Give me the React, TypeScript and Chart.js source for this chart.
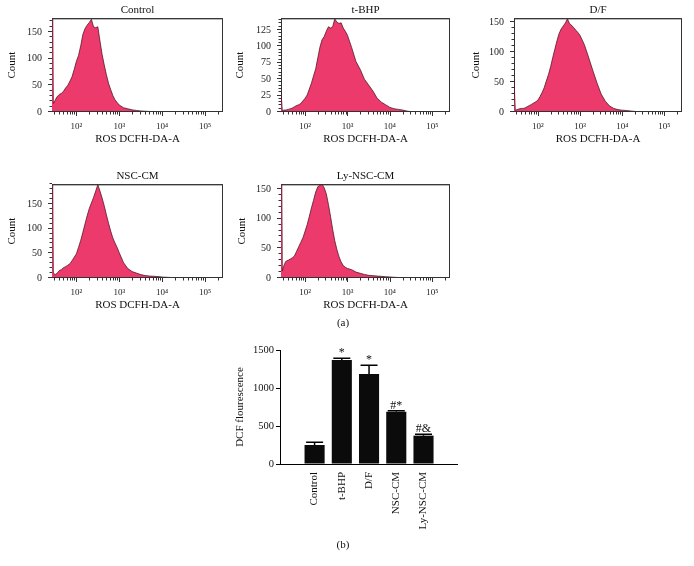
import React, { useEffect, useRef } from 'react';
import { Chart, registerables } from 'chart.js';
Chart.register(...registerables);

const FONT = "'Liberation Serif', 'DejaVu Serif', serif";

// Histogram channels: ROS DCFH-DA-A fluorescence intensity (log scale)
const CHANNELS = [27, 28, 29, 32, 35, 40, 45, 50, 56, 63, 71, 79, 89, 100, 112, 126, 141, 158, 178, 200, 224, 251, 282, 316, 355, 398, 447, 501, 562, 631, 708, 794, 891, 1000, 1259, 1585, 1995, 2512, 3162, 3981, 5012, 6310, 7943, 10000, 12589, 15849, 19953, 25119, 31623, 262144];

// Event counts per channel
const CONTROL_COUNTS = [400, 400, 16, 22, 28, 33, 35, 39, 45, 50, 58, 66, 80, 95, 106, 124, 145, 156, 163, 168, 174, 160, 158, 160, 133, 108, 88, 70, 54, 42, 31, 23, 18, 13, 8, 6, 4, 3, 2, 1.5, 1, 1, 0.7, 0.5, 0.4, 0.3, 0.2, 0.1, 0, 0];
const TBHP_COUNTS = [30, 30, 2, 3, 3, 4, 5, 6, 8, 10, 11, 13, 17, 21, 26, 35, 44, 55, 66, 83, 99, 110, 115, 123, 130, 128, 130, 142, 137, 135, 136, 128, 123, 117, 98, 77, 65, 50, 41, 32, 21, 15, 11, 7, 5, 4, 3, 1.5, 0.5, 0];
const DF_COUNTS = [55, 55, 3, 4, 5, 6, 6, 7, 9, 11, 13, 15, 17, 20, 26, 33, 41, 52, 63, 76, 91, 105, 119, 131, 139, 144, 149, 156, 148, 145, 141, 137, 133, 128, 113, 92, 70, 49, 30, 18, 10, 6, 4, 3, 2.5, 1.7, 1, 0.5, 0, 0];
const NSCCM_COUNTS = [400, 400, 10, 7, 9, 15, 17, 21, 23, 26, 29, 35, 42, 49, 62, 76, 92, 109, 126, 141, 152, 163, 176, 189, 176, 162, 146, 128, 111, 95, 81, 71, 62, 51, 31, 19, 13, 10, 7, 5, 4, 3.5, 3, 2, 1.5, 1, 0.7, 0.3, 0, 0];
const LYNSCCM_COUNTS = [400, 400, 12, 22, 28, 30, 32, 34, 37, 45, 53, 60, 68, 79, 90, 104, 118, 131, 145, 154, 156, 158, 152, 142, 124, 104, 82, 63, 48, 36, 27, 21, 18, 16, 14, 10, 8, 6, 4.5, 4, 3.3, 2.8, 2.2, 1.8, 1.2, 0.8, 0.5, 0.2, 0, 0];

// x-axis ticks for the histograms
const X_TICKS = [30, 40, 50, 60, 70, 80, 90, 100, 200, 300, 400, 500, 600, 700, 800, 900, 1000, 2000, 3000, 4000, 5000, 6000, 7000, 8000, 9000, 10000, 20000, 30000, 40000, 50000, 60000, 70000, 80000, 90000, 100000, 200000];
const X_DECADES = [100, 1000, 10000, 100000];
const X_DECADE_LABELS = ['10²', '10³', '10⁴', '10⁵'];

// Bar chart (b)
const GROUPS = ['Control', 't-BHP', 'D/F', 'NSC-CM', 'Ly-NSC-CM'];
const DCF_MEAN = [250, 1368, 1184, 689, 373];
const DCF_SEM = [35, 22, 114, 13, 17];
const SIG_MARKS = ['', '*', '*', '#*', '#&'];
const DCF_TICKS = [0, 500, 1000, 1500];

const histFrame = {
  id: 'histFrame',
  beforeDatasetsDraw(chart: any, _a: any, opts: any) {
    const { ctx, chartArea: a, scales } = chart;
    ctx.save();
    ctx.strokeStyle = '#333';
    ctx.lineWidth = 1;
    ctx.strokeRect(a.left + 0.5, a.top + 0.5, a.right - a.left - 1, a.bottom - a.top - 1);
    ctx.beginPath();
    const xs = scales.x;
    xs.ticks.forEach((t: any) => {
      const px = Math.round(xs.getPixelForValue(t.value)) + 0.5;
      const len = X_DECADES.includes(t.value) ? 4 : 2.5;
      ctx.moveTo(px, a.bottom);
      ctx.lineTo(px, a.bottom + len);
    });
    const ys = scales.y;
    ys.ticks.forEach((t: any) => {
      const py = Math.round(ys.getPixelForValue(t.value)) - 0.5;
      const len = t.value % opts.labelStep === 0 ? 4 : 2.5;
      ctx.moveTo(a.left, py);
      ctx.lineTo(a.left - len, py);
    });
    ctx.stroke();
    ctx.restore();
  },
  afterDatasetsDraw(chart: any) {
    const { ctx, chartArea: a } = chart;
    ctx.save();
    ctx.strokeStyle = '#333';
    ctx.lineWidth = 1;
    ctx.beginPath();
    ctx.moveTo(a.left, a.bottom - 0.5);
    ctx.lineTo(a.right - 0.5, a.bottom - 0.5);
    ctx.lineTo(a.right - 0.5, a.top + 0.5);
    ctx.lineTo(a.left, a.top + 0.5);
    ctx.stroke();
    ctx.restore();
  },
};

function histConfig(p: any) {
  return {
    type: 'line',
    data: {
      datasets: [
        {
          data: CHANNELS.map((x, i) => ({ x, y: p.counts[i] })),
          borderColor: 'rgba(70,12,28,0.9)',
          borderWidth: 0.8,
          backgroundColor: '#EC3A6C',
          fill: 'origin',
          pointRadius: 0,
          tension: 0,
          clip: 0,
        },
      ],
    },
    options: {
      responsive: false,
      animation: false,
      events: [],
      layout: { padding: { left: 0, right: p.padR, top: 0, bottom: 0 } },
      plugins: {
        legend: { display: false },
        tooltip: { enabled: false },
        title: {
          display: true,
          text: p.title,
          fullSize: false,
          color: '#111',
          font: { family: FONT, size: 11, weight: 'normal' },
          padding: { top: 4, bottom: 1 },
        },
        histFrame: { labelStep: p.labelStep },
      },
      scales: {
        x: {
          type: 'logarithmic',
          min: 27,
          max: 262144,
          afterBuildTicks: (s: any) => {
            s.ticks = X_TICKS.map((v) => ({ value: v }));
          },
          afterFit: (s: any) => {
            s.height = 38;
          },
          grid: { display: false, drawTicks: false },
          border: { display: false },
          ticks: {
            autoSkip: false,
            maxRotation: 0,
            minRotation: 0,
            padding: 9,
            color: '#222',
            font: { family: FONT, size: 9 },
            callback: (v: any) => {
              const k = X_DECADES.indexOf(v);
              return k >= 0 ? X_DECADE_LABELS[k] : '';
            },
          },
          title: {
            display: true,
            text: 'ROS DCFH-DA-A',
            color: '#111',
            font: { family: FONT, size: 11 },
            padding: { top: 0, bottom: 3.9 },
          },
        },
        y: {
          type: 'linear',
          min: 0,
          max: p.yMax,
          afterFit: (s: any) => {
            s.width = p.yw;
          },
          grid: { display: false, drawTicks: false },
          border: { display: false },
          ticks: {
            stepSize: p.minor,
            includeBounds: false,
            autoSkip: false,
            padding: 10,
            color: '#222',
            font: { family: FONT, size: 10 },
            callback: (v: any) => (v % p.labelStep === 0 ? String(v) : ''),
          },
          title: {
            display: true,
            text: 'Count',
            color: '#111',
            font: { family: FONT, size: 11 },
            padding: { top: p.yTitlePad, bottom: 0 },
          },
        },
      },
    },
    plugins: [histFrame],
  };
}

const errBars = {
  id: 'errBars',
  afterDatasetsDraw(chart: any) {
    const { ctx, scales } = chart;
    const x = scales.x;
    const y = scales.y;
    ctx.save();
    ctx.strokeStyle = '#000';
    ctx.fillStyle = '#111';
    ctx.lineWidth = 1.5;
    ctx.font = `12px ${FONT}`;
    ctx.textAlign = 'center';
    ctx.textBaseline = 'alphabetic';
    DCF_MEAN.forEach((m, i) => {
      const px = x.getPixelForValue(i);
      const top = y.getPixelForValue(m + DCF_SEM[i]);
      const base = y.getPixelForValue(m);
      ctx.beginPath();
      ctx.moveTo(px, base);
      ctx.lineTo(px, top);
      ctx.moveTo(px - 8.5, top);
      ctx.lineTo(px + 8.5, top);
      ctx.stroke();
      if (SIG_MARKS[i]) ctx.fillText(SIG_MARKS[i], px, top - 2);
    });
    ctx.restore();
  },
};

function barConfig() {
  return {
    type: 'bar',
    data: {
      datasets: [
        {
          data: GROUPS.map((_, i) => ({ x: i, y: DCF_MEAN[i] })),
          backgroundColor: '#0b0b0b',
          borderWidth: 0,
          barPercentage: 0.9,
          categoryPercentage: 0.82,
        },
      ],
    },
    options: {
      responsive: false,
      animation: false,
      events: [],
      layout: { padding: { left: 0, right: 13, top: 20, bottom: 0 } },
      plugins: { legend: { display: false }, tooltip: { enabled: false } },
      scales: {
        x: {
          type: 'linear',
          min: -0.62,
          max: 4.58,
          afterBuildTicks: (s: any) => {
            s.ticks = GROUPS.map((_, i) => ({ value: i }));
          },
          afterFit: (s: any) => {
            s.height = 75;
          },
          grid: { display: false, drawTicks: false },
          border: { display: true, color: '#000', width: 1 },
          ticks: {
            autoSkip: false,
            minRotation: 90,
            maxRotation: 90,
            padding: 8,
            color: '#111',
            font: { family: FONT, size: 11 },
            callback: (v: any) => GROUPS[v] ?? '',
          },
        },
        y: {
          min: 0,
          max: 1500,
          afterBuildTicks: (s: any) => {
            s.ticks = DCF_TICKS.map((v) => ({ value: v }));
          },
          afterFit: (s: any) => {
            s.width = 80;
          },
          grid: { display: true, drawOnChartArea: false, drawTicks: true, tickLength: 4, color: '#000', tickWidth: 1 },
          border: { display: true, color: '#000', width: 1 },
          ticks: {
            padding: 2,
            color: '#111',
            font: { family: FONT, size: 10.5 },
            callback: (v: any) => String(v),
          },
          title: {
            display: true,
            text: 'DCF flourescence',
            color: '#111',
            font: { family: FONT, size: 11 },
            padding: { top: 34, bottom: 0 },
          },
        },
      },
    },
    plugins: [errBars],
  };
}

function ChartBox(props: { left: number; top: number; width: number; height: number; build: () => any }) {
  const ref = useRef<HTMLCanvasElement>(null);
  useEffect(() => {
    const chart = new Chart(ref.current as HTMLCanvasElement, props.build());
    return () => chart.destroy();
  }, []);
  return (
    <canvas
      ref={ref}
      width={props.width}
      height={props.height}
      style={{ position: 'absolute', left: props.left, top: props.top, width: props.width, height: props.height }}
    />
  );
}

const PANELS = [
  { title: 'Control', counts: CONTROL_COUNTS, left: 0, top: 0, w: 230, yw: 52, padR: 7, yTitlePad: 5.4, yMax: 176, labelStep: 50, minor: 10 },
  { title: 't-BHP', counts: TBHP_COUNTS, left: 228, top: 0, w: 230, yw: 53, padR: 8, yTitlePad: 5.4, yMax: 143, labelStep: 25, minor: 5 },
  { title: 'D/F', counts: DF_COUNTS, left: 460, top: 0, w: 234, yw: 54, padR: 12, yTitlePad: 9.4, yMax: 157, labelStep: 50, minor: 10 },
  { title: 'NSC-CM', counts: NSCCM_COUNTS, left: 0, top: 166, w: 230, yw: 52, padR: 7, yTitlePad: 5.4, yMax: 190, labelStep: 50, minor: 10 },
  { title: 'Ly-NSC-CM', counts: LYNSCCM_COUNTS, left: 228, top: 166, w: 230, yw: 53, padR: 8, yTitlePad: 8, yMax: 158, labelStep: 50, minor: 10 },
];

const capStyle: React.CSSProperties = {
  position: 'absolute',
  width: 40,
  textAlign: 'center',
  fontFamily: FONT,
  fontSize: 11,
  lineHeight: '14px',
  color: '#111',
};

export default function App() {
  return (
    <div style={{ position: 'absolute', left: 0, top: 0, width: 694, height: 566, background: '#fff' }}>
      {PANELS.map((p) => (
        <ChartBox key={p.title} left={p.left} top={p.top} width={p.w} height={150} build={() => histConfig(p)} />
      ))}
      <div style={{ ...capStyle, left: 323, top: 315 }}>(a)</div>
      <ChartBox left={200} top={330} width={270} height={209} build={barConfig} />
      <div style={{ ...capStyle, left: 323, top: 537 }}>(b)</div>
    </div>
  );
}
